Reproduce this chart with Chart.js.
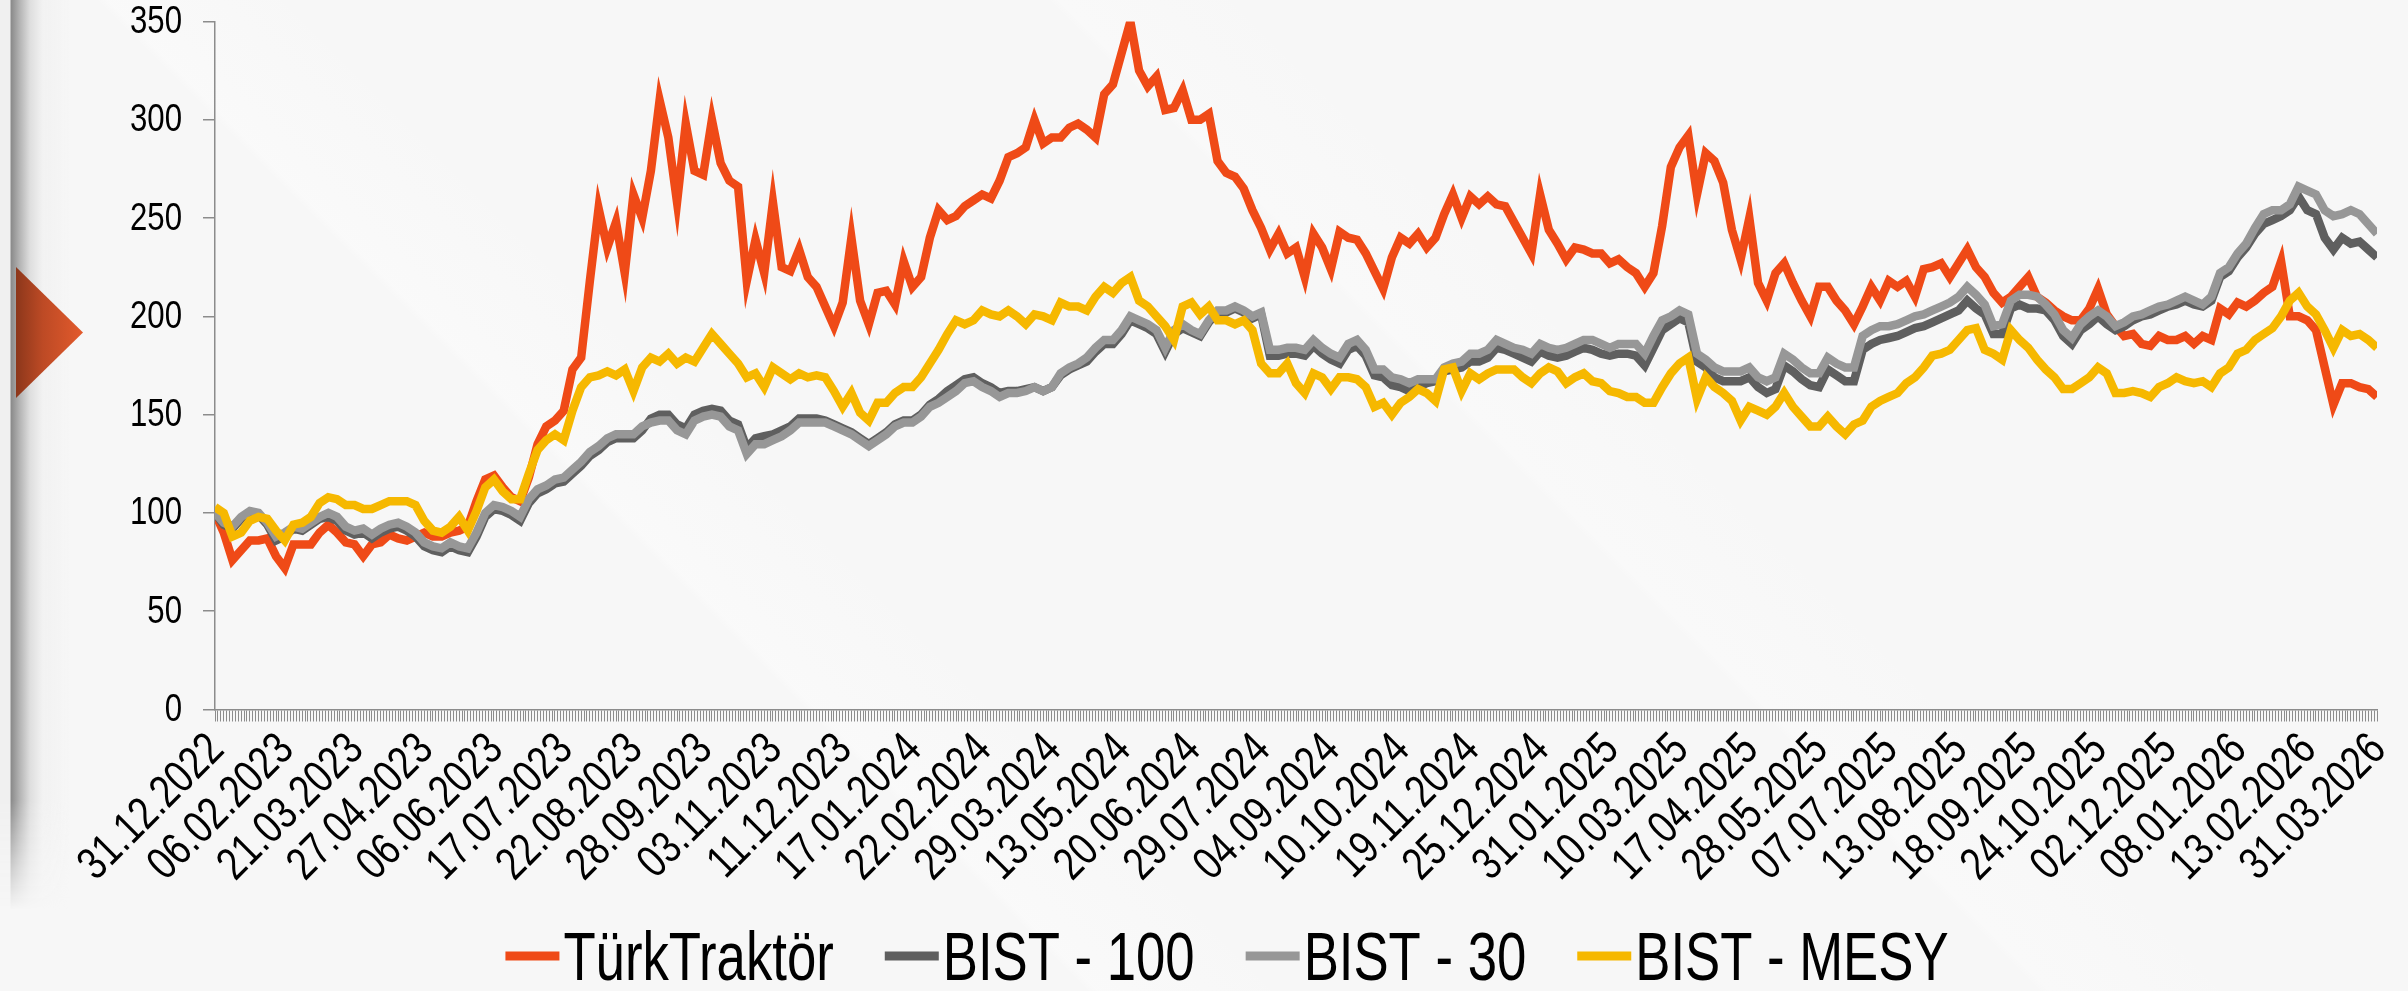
<!DOCTYPE html>
<html><head><meta charset="utf-8">
<script src="https://cdn.jsdelivr.net/npm/chart.js@4.4.1/dist/chart.umd.min.js"></script>
<style>
html,body{margin:0;padding:0;width:2408px;height:991px;overflow:hidden;background:#f7f7f7;}
#bg{position:absolute;left:0;top:0;width:2408px;height:991px;
 background:
  linear-gradient(45deg, rgba(247,247,247,0) 32%, rgba(251,251,251,0.6) 32.3%, rgba(247,247,247,0) 38%),
  linear-gradient(45deg, rgba(247,247,247,0) 60%, rgba(251,251,251,0.5) 60.3%, rgba(247,247,247,0) 66%),
  #f7f7f7;}
#strip{position:absolute;left:0;top:0;width:70px;height:910px;
 background:linear-gradient(to right,#f0f0f0 0px,#f0f0f0 10px,#8a8a8a 11px,#b5b5b5 20px,#dedede 30px,#f1f1f1 42px,rgba(247,247,247,0) 70px);
 -webkit-mask-image:linear-gradient(to bottom,#000 0%,#000 88%,rgba(0,0,0,0) 100%);
 mask-image:linear-gradient(to bottom,#000 0%,#000 88%,rgba(0,0,0,0) 100%);}
#tri{position:absolute;left:16px;top:267px;width:67px;height:131px;
 clip-path:polygon(0 0,100% 50%,0 100%);
 background:linear-gradient(to right,#8c371b 0%,#bd4a25 40%,#e35a2c 100%);}
canvas{position:absolute;left:0;top:0;}
</style></head>
<body>
<div id="bg"></div><div id="strip"></div><div id="tri"></div>
<canvas id="c" width="2408" height="991"></canvas>
<script>
const tickLabels = ["31.12.2022","06.02.2023","21.03.2023","27.04.2023","06.06.2023","17.07.2023","22.08.2023","28.09.2023","03.11.2023","11.12.2023","17.01.2024","22.02.2024","29.03.2024","13.05.2024","20.06.2024","29.07.2024","04.09.2024","10.10.2024","19.11.2024","25.12.2024","31.01.2025","10.03.2025","17.04.2025","28.05.2025","07.07.2025","13.08.2025","18.09.2025","24.10.2025","02.12.2025","08.01.2026","13.02.2026","31.03.2026"];

const seriesNames = ["TürkTraktör","BIST - 100","BIST - 30","BIST - MESY"];

const turkTraktor = [
100,90,76,81,86,86,87,78,72,84, 84,84,90,94,90,85,84,78,84,85, 89,87,86,88,90,88,88,90,91,93, 106,117,119,113,108,106,118,135,144,147, 152,173,179,218,255,235,248,222,262,250,
274,310,291,258,298,274,272,300,278,269, 266,218,239,222,258,225,223,234,220,215, 205,195,207,240,208,196,212,213,206,228, 215,220,240,254,249,251,256,259,262,260, 269,281,283,286,300,288,291,291,296,298,
295,291,313,318,334,350,325,317,322,305, 306,315,300,300,303,279,273,271,265,254, 245,234,242,232,235,220,242,235,224,243, 240,239,232,223,214,230,240,237,242,235, 240,252,262,250,261,257,261,257,256,248,
240,232,262,244,237,229,235,234,232,232, 227,229,225,222,215,222,246,276,286,292, 262,283,279,268,244,229,250,217,208,222, 227,217,208,200,215,215,208,203,196,205, 215,208,218,215,218,210,224,225,227,220,
227,234,225,220,212,207,210,215,220,210, 207,203,200,198,198,204,214,201,195,190, 191,186,185,190,188,188,190,186,190,188, 204,201,207,205,208,212,215,228,200,200, 198,193,174,155,166,166,164,163,159
];

const bist100 = [
100,94,92,97,100,99,94,86,88,92, 91,94,97,98,96,91,89,90,87,90, 92,93,91,88,83,81,80,83,81,80, 88,98,102,101,99,96,105,110,112,115, 116,120,124,129,132,136,138,138,138,142,
148,150,150,145,143,150,152,153,152,147, 145,133,138,139,140,142,144,148,148,148, 147,145,143,141,138,135,138,141,145,147, 147,150,155,158,162,165,168,169,166,164, 161,162,162,163,164,162,164,170,173,175,
177,182,186,186,191,198,196,194,191,182, 191,194,192,190,197,202,202,204,202,199, 201,180,180,181,181,180,185,181,178,176, 183,185,180,170,169,165,164,162,164,166, 167,172,173,174,177,177,179,184,183,181,
179,177,182,180,179,180,182,184,183,181, 180,181,181,180,175,184,193,196,199,197, 177,174,169,167,167,167,169,164,161,163, 175,172,168,165,164,173,170,167,167,183, 186,188,189,190,192,194,195,197,199,201,
203,208,204,201,191,191,204,206,204,204, 203,198,190,186,193,196,200,196,193,195, 198,200,201,203,205,206,208,206,205,208, 220,223,230,235,242,247,249,251,254,261, 254,252,240,234,240,237,238,234,230
];

const bist30 = [
100,95,93,98,101,100,95,88,90,93, 92,95,98,100,98,93,91,92,89,92, 94,95,93,90,85,83,82,85,83,82, 90,100,104,103,101,98,107,112,114,117, 118,122,126,131,134,138,140,140,140,144,
146,147,147,142,140,147,149,150,149,144, 142,130,135,135,137,139,142,146,146,146, 146,144,142,140,137,134,137,140,144,146, 146,149,154,156,159,162,166,167,164,162, 159,161,161,162,164,162,164,171,174,176,
179,184,188,188,193,200,198,196,193,184, 193,196,193,191,198,203,203,205,203,200, 202,183,183,184,184,183,188,184,181,179, 186,188,183,173,173,169,168,166,168,168, 168,174,176,177,181,181,183,188,186,184,
183,181,186,184,183,184,186,188,188,186, 184,186,186,186,181,190,198,200,203,201, 181,178,174,172,172,172,174,169,167,169, 181,178,174,171,171,179,176,174,174,190, 193,195,195,196,198,200,201,203,205,207,
210,215,211,206,195,196,208,211,211,210, 206,201,193,189,196,200,203,200,195,197, 200,201,203,205,206,208,210,208,206,210, 222,225,232,237,245,252,254,254,257,266, 264,262,254,251,252,254,252,247,242
];

const bistMesy = [
103,100,88,90,96,98,97,91,86,94, 95,98,105,108,107,104,104,102,102,104, 106,106,106,104,96,91,90,93,98,91, 101,113,117,111,107,107,120,132,137,140, 137,152,164,169,170,172,170,173,162,174,
179,177,181,176,179,177,184,191,186,181, 176,169,171,164,174,171,168,171,169,170, 169,162,154,161,151,147,156,156,161,164, 164,169,176,183,191,198,196,198,203,201, 200,203,200,196,201,200,198,207,205,205,
203,210,215,212,217,220,208,205,200,195, 188,205,207,201,205,198,198,196,198,193, 176,171,171,176,166,161,171,169,163,169, 169,168,164,154,156,150,156,159,163,161, 157,173,174,162,171,168,171,173,173,173,
169,166,171,174,172,166,169,171,167,166, 162,161,159,159,156,156,164,171,176,179, 158,169,164,161,157,147,154,152,150,154, 161,154,149,144,144,149,144,140,145,147, 154,157,159,161,166,169,174,180,181,183,
188,193,194,183,181,178,193,188,184,178, 173,169,163,163,166,169,174,171,161,161, 162,161,159,164,166,169,167,166,167,164, 171,174,181,183,188,191,194,200,208,212, 205,201,193,184,193,190,191,188,184
];

const yTicks = [0,50,100,150,200,250,300,350];

const FONT = "'Liberation Sans', Arial, sans-serif";
const NARROW = 0.82;
const N = turkTraktor.length;
const PER = (N - 1) / (tickLabels.length - 1);
const SUB = 3;
const toXY = arr => arr.map((v, i) => ({x: i, y: v}));

// Narrow (Arial-Narrow-like) text drawn at positions given by the chart's scales
const narrowText = (ctx, text, x, y, angle, sx) => {
  ctx.save();
  ctx.translate(x, y);
  if (angle) ctx.rotate(angle);
  ctx.scale(sx || NARROW, 1);
  ctx.fillText(text, 0, 0);
  ctx.restore();
};

const axisLabelPlugin = {
  id: 'axisLabels',
  afterDraw(chart) {
    const ctx = chart.ctx;
    const xs = chart.scales.x, ys = chart.scales.y;
    ctx.save();
    ctx.fillStyle = '#000';
    ctx.font = '38px ' + FONT;
    ctx.textAlign = 'right';
    ctx.textBaseline = 'middle';
    yTicks.forEach(v => narrowText(ctx, String(v), ys.right - 12 - 21, ys.getPixelForValue(v) + 1, 0));
    ctx.font = '46px ' + FONT;
    tickLabels.forEach((t, i) => {
      const px = xs.getPixelForValue(i * PER);
      narrowText(ctx, t, px + 2, ys.bottom + 33, -Math.PI / 4, 0.8);
    });
    ctx.restore();
  }
};

const legendPlugin = {
  id: 'customLegend',
  afterDraw(chart) {
    const ctx = chart.ctx;
    ctx.save();
    const size = 68, sx = 0.775;
    ctx.font = size + 'px ' + FONT;
    const items = chart.data.datasets.map(d => ({text: d.label, color: d.borderColor, w: ctx.measureText(d.label).width * sx}));
    const boxW = 54, gap = 4, spacing = 51;
    const total = items.reduce((a, it) => a + boxW + gap + it.w, 0) + spacing * (items.length - 1);
    let x = 1227 - total / 2;
    const yc = 956;
    ctx.textBaseline = 'alphabetic';
    ctx.textAlign = 'left';
    items.forEach(it => {
      ctx.fillStyle = it.color;
      ctx.fillRect(x, yc - 4.5, boxW, 9);
      x += boxW + gap;
      ctx.fillStyle = '#000';
      narrowText(ctx, it.text, x, yc + size * 0.716 / 2, 0, sx);
      x += it.w + spacing;
    });
    ctx.restore();
  }
};

new Chart(document.getElementById('c'), {
  type: 'line',
  data: {
    datasets: [
      {label: seriesNames[0], data: toXY(turkTraktor), borderColor: '#EF4A17', backgroundColor: '#EF4A17', order: 4},
      {label: seriesNames[1], data: toXY(bist100), borderColor: '#5F5F5F', backgroundColor: '#5F5F5F', order: 3},
      {label: seriesNames[2], data: toXY(bist30), borderColor: '#979797', backgroundColor: '#979797', order: 2},
      {label: seriesNames[3], data: toXY(bistMesy), borderColor: '#F6B800', backgroundColor: '#F6B800', order: 1}
    ]
  },
  options: {
    responsive: false,
    animation: false,
    devicePixelRatio: 1,
    elements: {
      line: {borderWidth: 8.5, tension: 0, borderJoinStyle: 'miter', borderCapStyle: 'butt', fill: false},
      point: {radius: 0}
    },
    layout: {padding: {left: 0, right: 31, top: 21.5, bottom: 130}},
    plugins: {legend: {display: false}, tooltip: {enabled: false}},
    scales: {
      x: {
        type: 'linear', min: 0, max: N - 1, offset: false,
        afterBuildTicks: s => {
          const t = [];
          for (let k = 0; k <= (N - 1) * SUB; k++) t.push({value: k / SUB});
          s.ticks = t;
        },
        ticks: {display: false, autoSkip: false},
        grid: {drawOnChartArea: false, drawTicks: true, tickLength: 12, color: '#8c8c8c', lineWidth: 1},
        border: {display: true, color: '#8c8c8c', width: 1.5},
        afterFit: s => { s.height = 151.5; }
      },
      y: {
        min: 0, max: 350,
        afterBuildTicks: s => { s.ticks = yTicks.map(v => ({value: v})); },
        ticks: {display: false},
        grid: {drawOnChartArea: false, drawTicks: true, tickLength: 12, color: '#8c8c8c', lineWidth: 1.5},
        border: {display: true, color: '#8c8c8c', width: 1.5},
        afterFit: s => { s.width = 215; }
      }
    }
  },
  plugins: [axisLabelPlugin, legendPlugin]
});
</script>
</body></html>
